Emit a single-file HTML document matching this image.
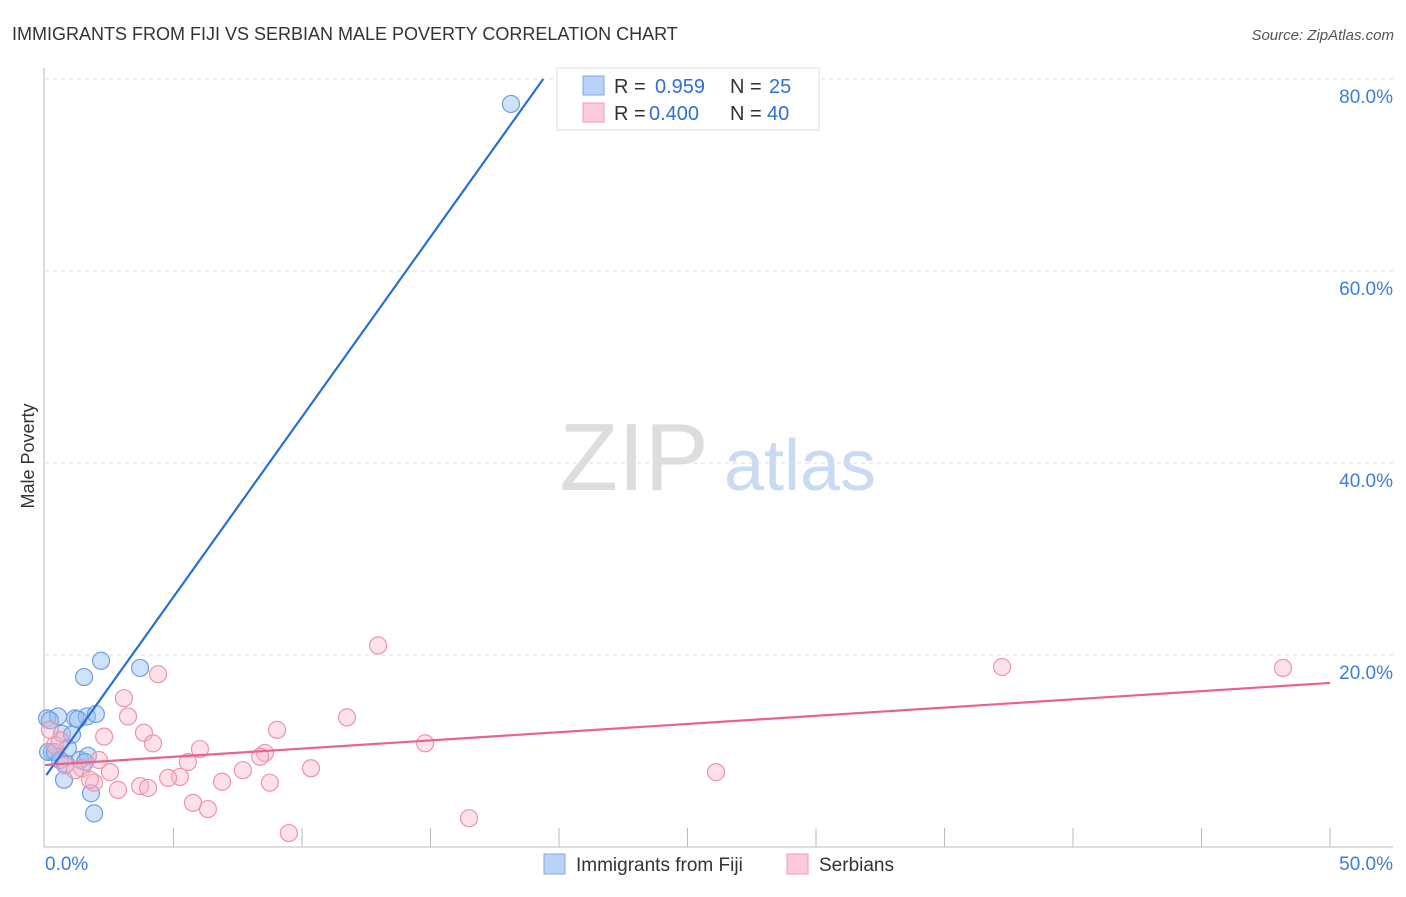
<!DOCTYPE html>
<html><head><meta charset="utf-8"><style>
body{margin:0;background:#fff;font-family:"Liberation Sans",sans-serif;}
svg text{font-family:"Liberation Sans",sans-serif;}
</style></head><body>
<svg id="c" width="1406" height="892" xmlns="http://www.w3.org/2000/svg">
<text x="12" y="40" font-size="18" fill="#333">IMMIGRANTS FROM FIJI VS SERBIAN MALE POVERTY CORRELATION CHART</text>
<text x="1394" y="40" font-size="15" fill="#555" font-style="italic" text-anchor="end">Source: ZipAtlas.com</text>
<text x="34" y="456" font-size="18" fill="#333" text-anchor="middle" transform="rotate(-90 34 456)">Male Poverty</text>
<g><text x="634" y="490" font-size="96" fill="#ddd" font-family="Liberation Serif" text-anchor="middle">ZIP</text><text x="800" y="490" font-size="72" fill="#c9daf3" text-anchor="middle">atlas</text></g>
<g id="grid"></g><g id="axes"></g><g id="pts"></g><g id="lines"></g>
<g>
<rect x="557" y="68" width="262" height="62" fill="#fff" stroke="#ddd"/>
<rect x="583" y="76" width="21" height="19" fill="#b8d3f5" stroke="#7fa9e6"/>
<rect x="583" y="103" width="21" height="19" fill="#fccad8" stroke="#f09ab3"/>
<text x="614" y="93" font-size="20" fill="#333">R =</text><text x="655" y="93" font-size="20" fill="#2f6fd4">0.959</text>
<text x="730" y="93" font-size="20" fill="#333">N =</text><text x="769" y="93" font-size="20" fill="#2f6fd4">25</text>
<text x="614" y="120" font-size="20" fill="#333">R =</text><text x="649" y="120" font-size="20" fill="#2f6fd4">0.400</text>
<text x="730" y="120" font-size="20" fill="#333">N =</text><text x="767" y="120" font-size="20" fill="#2f6fd4">40</text>
</g>
<g>
<rect x="544" y="854" width="21" height="20" fill="#b8d3f5" stroke="#7fa9e6"/>
<text x="576" y="871" font-size="19" fill="#333">Immigrants from Fiji</text>
<rect x="787" y="854" width="21" height="20" fill="#fccad8" stroke="#f09ab3"/>
<text x="819" y="871" font-size="19" fill="#333">Serbians</text>
</g>
</svg>
<script>
const yTicks=[20,40,60,80];
const xTickLabels=["0.0%","50.0%"];
const fijiX=[18.13,2.18,3.70,1.52,0.08,0.51,1.17,1.63,1.98,0.66,0.89,0.27,0.12,1.36,1.67,0.74,1.79,1.91,0.39,1.05,0.58,1.56,0.19,1.28,0.82];
const fijiY=[77.4,19.4,18.65,17.7,13.4,13.6,13.4,13.6,13.85,11.8,10.3,9.9,9.9,9.06,9.5,7.0,5.6,3.5,9.9,11.7,9.06,8.85,13.2,13.3,8.65];
const serbX=[12.96,37.24,48.17,4.40,3.07,3.23,11.75,9.03,3.85,4.20,2.30,14.79,6.03,8.56,8.37,5.56,2.10,2.53,1.44,7.70,10.35,26.11,5.25,4.79,6.89,8.75,3.70,4.01,2.84,1.91,5.76,6.34,16.50,9.49,0.39,0.78,1.17,0.58,1.75,0.19];
const serbY=[21.0,18.75,18.65,18.0,15.5,13.6,13.5,12.2,11.9,10.8,11.5,10.8,10.2,9.8,9.4,8.85,9.06,7.8,8.2,8.0,8.2,7.8,7.3,7.2,6.8,6.7,6.35,6.15,5.95,6.7,4.6,3.95,3.0,1.45,10.6,8.5,8.0,11.1,7.0,12.2];
const fijiTrend=[7.3,3.75];
const serbTrend=[8.54,0.171];
const NS="http://www.w3.org/2000/svg";
const X=v=>45+v/50*1285, Y=v=>847-v/20*192;
function mk(t,a,p){const e=document.createElementNS(NS,t);for(const k in a)e.setAttribute(k,a[k]);document.getElementById(p).appendChild(e);return e;}
yTicks.forEach(t=>{
 const g=mk('line',{x1:45,x2:1393,y1:Y(t),y2:Y(t),stroke:'#ddd','stroke-dasharray':'4,4'},'grid');
 
 
 const l=mk('text',{x:1393,y:Y(t)+24,'font-size':19,fill:'#3b7dd8','text-anchor':'end'},'axes');l.textContent=t.toFixed(1)+'%';
 
 
});
mk('line',{x1:44,x2:44,y1:68,y2:847,stroke:'#bbb'},'axes');
mk('line',{x1:44,x2:1393,y1:847,y2:847,stroke:'#bbb'},'axes');
for(let i=1;i<=10;i++){mk('line',{x1:X(i*5),x2:X(i*5),y1:828,y2:847,stroke:'#bbb'},'axes');}
[[0,'start',45],[50,'end',1393]].forEach((d,i)=>{const t=mk('text',{x:d[2],y:870,'font-size':19,fill:'#3b7dd8','text-anchor':d[1]},'axes');t.textContent=xTickLabels[i];
 
 });
fijiX.forEach((x,i)=>{const c=mk('circle',{cx:X(x),cy:Y(fijiY[i]),r:8.5,fill:'rgba(150,190,240,0.45)',stroke:'#6d9fe0','stroke-width':1.2},'pts');
 
 });
serbX.forEach((x,i)=>{const c=mk('circle',{cx:X(x),cy:Y(serbY[i]),r:8.5,fill:'rgba(250,180,200,0.4)',stroke:'#ec93ad','stroke-width':1.2},'pts');
 
 });
const xEnd=(80-fijiTrend[0])/fijiTrend[1];
const bl=mk('line',{x1:X(0.05),y1:Y(fijiTrend[0]+fijiTrend[1]*0.05),x2:X(xEnd),y2:Y(fijiTrend[0]+fijiTrend[1]*xEnd),stroke:'#2a6fd6','stroke-width':2.2},'lines');


const pl=mk('line',{x1:X(0),y1:Y(serbTrend[0]),x2:X(50),y2:Y(serbTrend[0]+serbTrend[1]*50),stroke:'#e8628d','stroke-width':2.2},'lines');


</script>
</body></html>
